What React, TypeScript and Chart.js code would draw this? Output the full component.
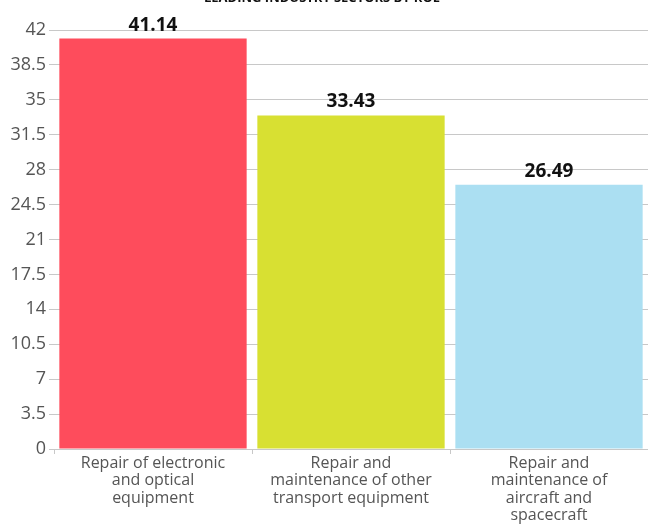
import React, { useEffect, useRef } from "react";
import { Chart, registerables } from "chart.js";

Chart.register(...registerables);

const categories: string[][] = [
  ["Repair of electronic", "and optical", "equipment"],
  ["Repair and", "maintenance of other", "transport equipment"],
  ["Repair and", "maintenance of", "aircraft and", "spacecraft"],
];
const values: number[] = [41.14, 33.43, 26.49];
const barColors: string[] = ["#fe4c5c", "#d8e032", "#abdff2"];
const titleText = "LEADING INDUSTRY SECTORS BY ROE";

const FONT = "'Open Sans', 'Noto Sans', sans-serif";

const valueLabels = {
  id: "valueLabels",
  afterDatasetsDraw(chart: any) {
    const ctx = chart.ctx;
    const meta = chart.getDatasetMeta(0);
    ctx.save();
    ctx.font = `bold 19px ${FONT}`;
    ctx.fillStyle = "#111";
    ctx.textAlign = "center";
    ctx.textBaseline = "alphabetic";
    meta.data.forEach((el: any, i: number) => {
      ctx.fillText(values[i].toFixed(2), el.x, el.y - 8);
    });
    ctx.restore();
  },
};

const topTitle = {
  id: "topTitle",
  afterDraw(chart: any) {
    const ctx = chart.ctx;
    ctx.save();
    ctx.font = `bold 13px ${FONT}`;
    ctx.fillStyle = "#111";
    ctx.textAlign = "center";
    ctx.textBaseline = "alphabetic";
    ctx.fillText(titleText, 322, 2);
    ctx.restore();
  },
};

export default function App() {
  const ref = useRef<HTMLCanvasElement>(null);
  useEffect(() => {
    document.body.style.margin = "0";
    const chart = new Chart(ref.current!, {
      type: "bar",
      data: {
        labels: categories,
        datasets: [
          {
            data: values,
            backgroundColor: barColors,
            borderWidth: 0,
            categoryPercentage: 1,
            barPercentage: 0.946,
          },
        ],
      },
      plugins: [valueLabels, topTitle],
      options: {
        animation: false,
        responsive: false,
        layout: { padding: { top: 30, right: -2, left: 0, bottom: 0 } },
        plugins: {
          legend: { display: false },
          tooltip: { enabled: false },
          title: { display: false },
        },
        scales: {
          x: {
            afterFit: (s: any) => {
              s.height = 75;
            },
            grid: {
              drawOnChartArea: false,
              drawTicks: true,
              tickLength: 5,
              color: "#c8c8c8",
            },
            border: { display: true, color: "#c8c8c8" },
            ticks: {
              color: "#555",
              font: { family: FONT, size: 16, lineHeight: 1.08 },
              padding: 1,
              maxRotation: 0,
              autoSkip: false,
            },
          },
          y: {
            min: 0,
            max: 42,
            afterFit: (s: any) => {
              s.width = 54;
            },
            grid: {
              color: "#c8c8c8",
              drawTicks: true,
              tickLength: 5,
            },
            border: { display: false },
            ticks: {
              stepSize: 3.5,
              color: "#555",
              font: { family: FONT, size: 18 },
              padding: 3,
              callback: (v: any) => String(Number(v)),
            },
          },
        },
      },
    });
    return () => chart.destroy();
  }, []);
  return <canvas ref={ref} width={648} height={524} style={{ display: "block" }} />;
}
